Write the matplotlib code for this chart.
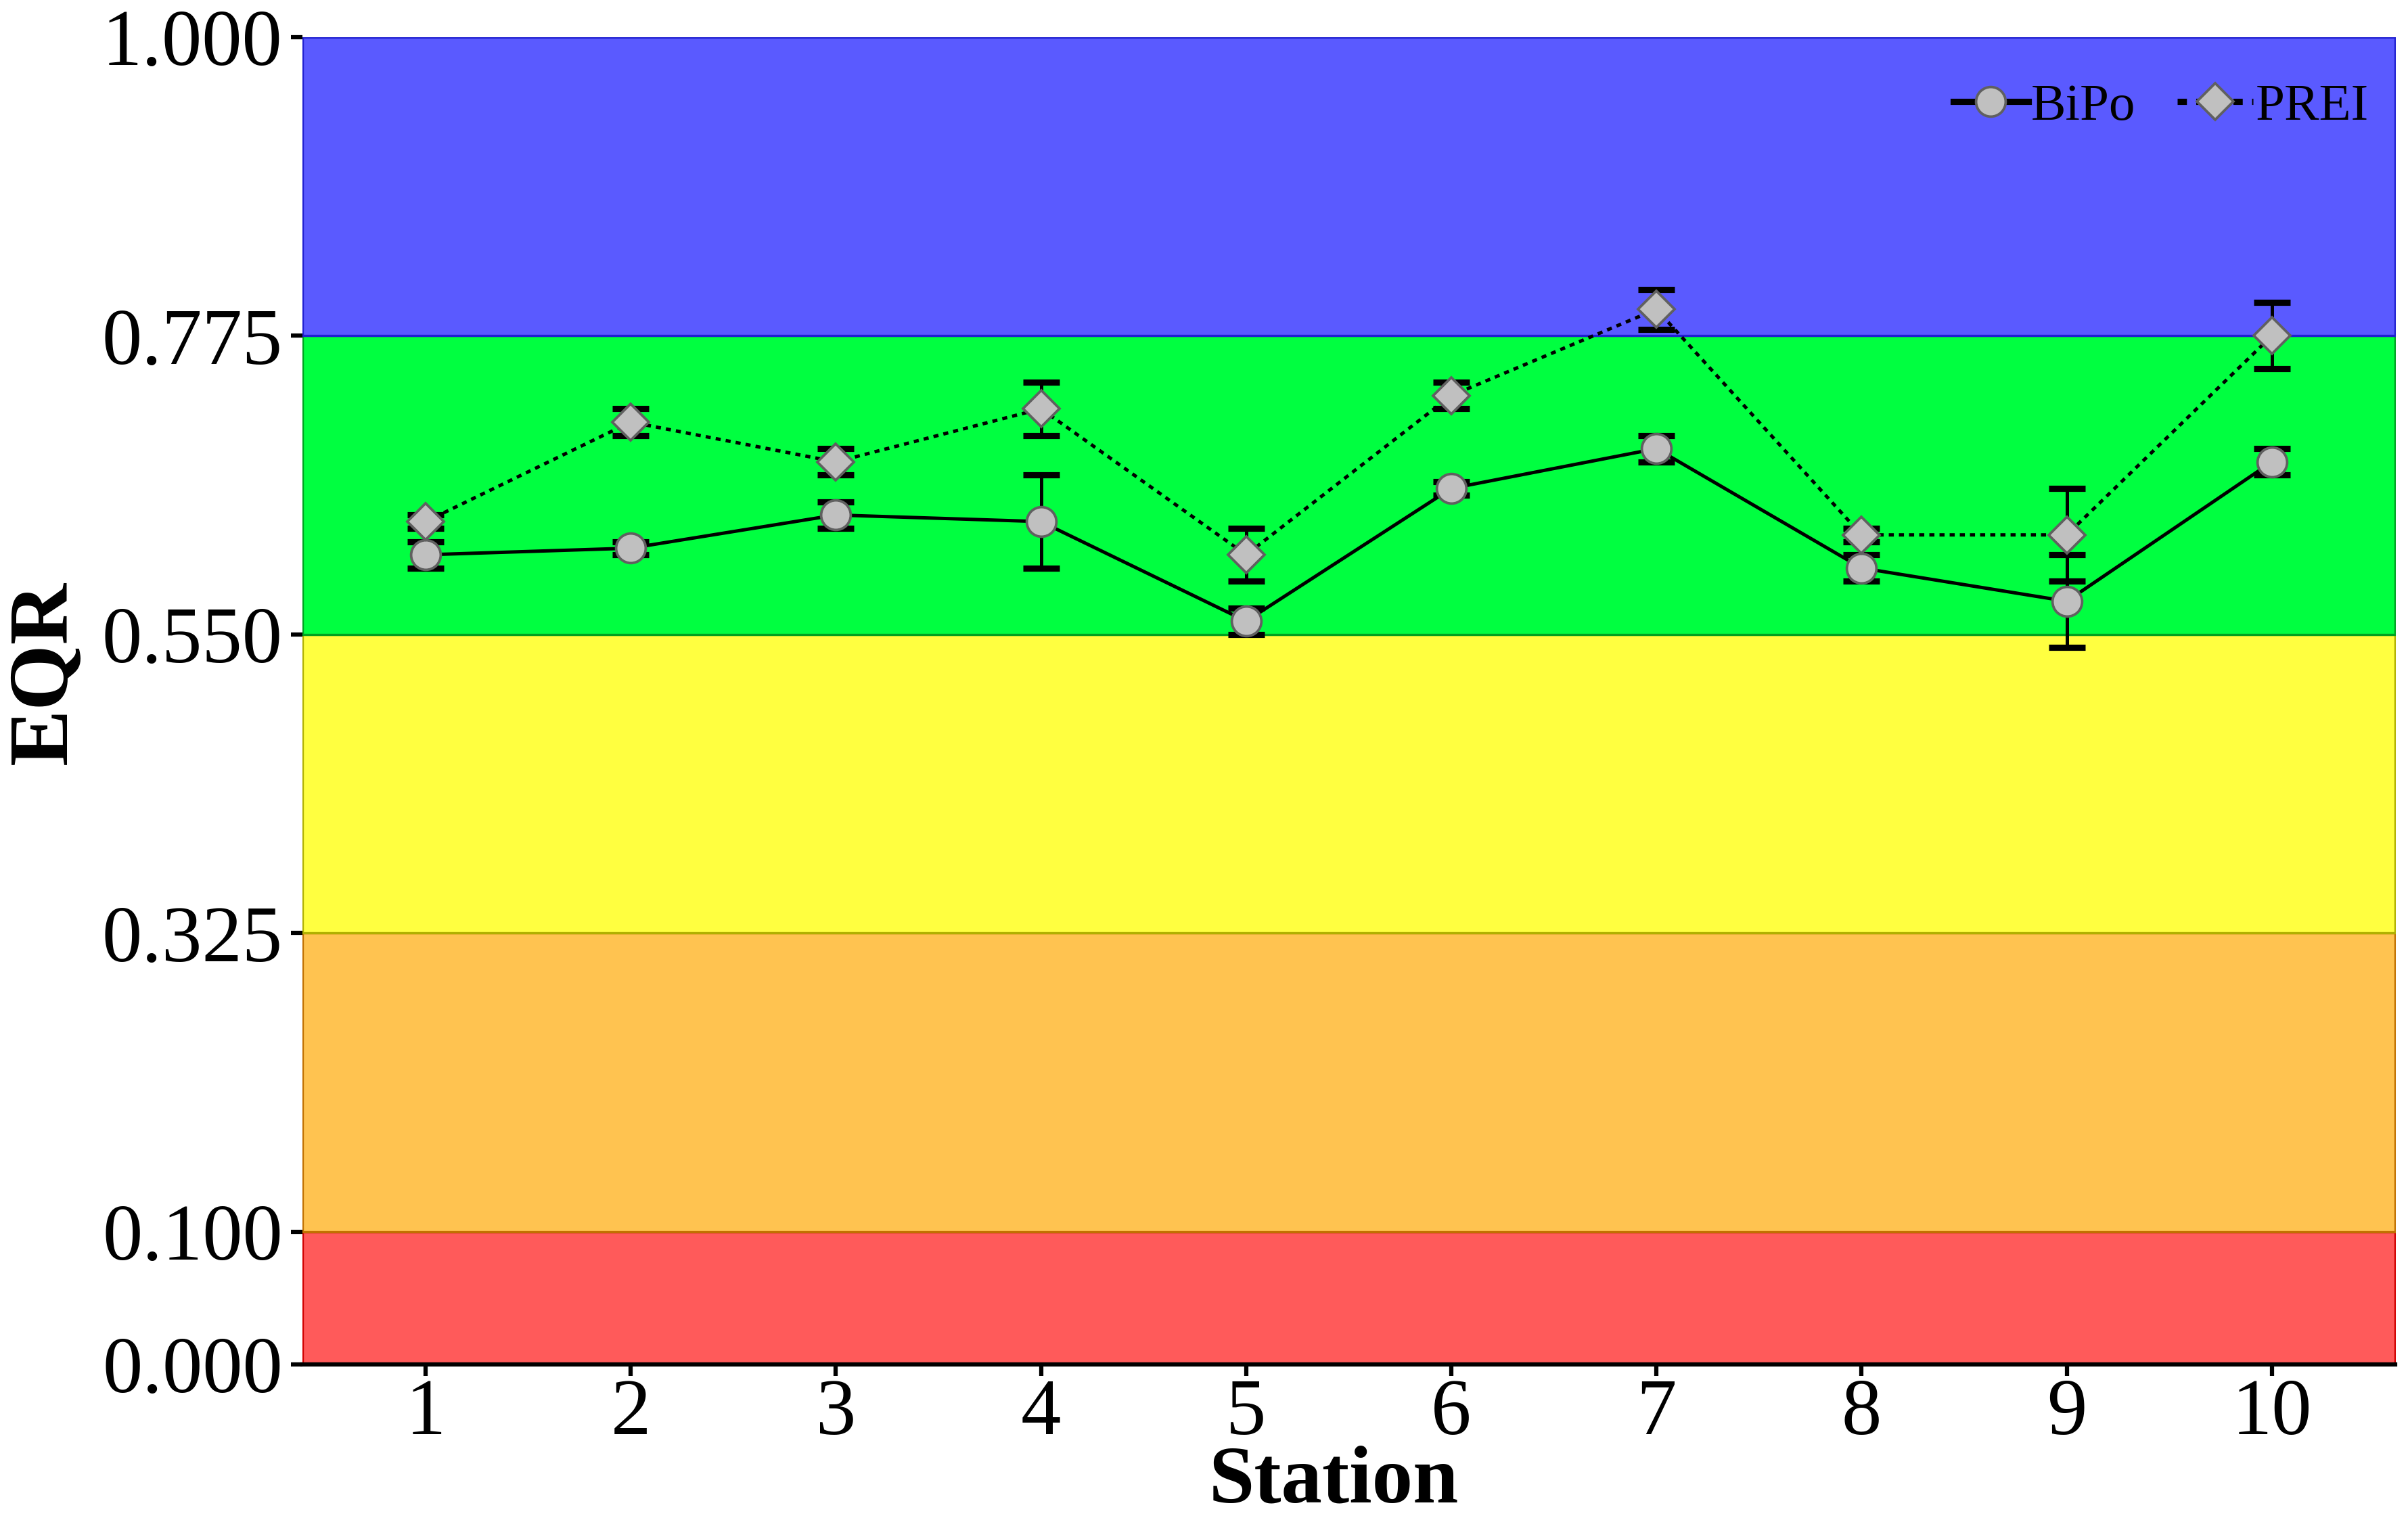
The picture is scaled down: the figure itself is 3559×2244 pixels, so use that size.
import matplotlib
matplotlib.use("Agg")
import matplotlib.pyplot as plt
import numpy as np

stations = [1, 2, 3, 4, 5, 6, 7, 8, 9, 10]
bipo = [0.610, 0.615, 0.640, 0.635, 0.560, 0.660, 0.690, 0.600, 0.575, 0.680]
bipo_err = [0.010, 0.005, 0.010, 0.035, 0.010, 0.005, 0.010, 0.010, 0.035, 0.010]
prei = [0.635, 0.710, 0.680, 0.720, 0.610, 0.730, 0.795, 0.625, 0.625, 0.775]
prei_err = [0.005, 0.010, 0.010, 0.020, 0.020, 0.010, 0.015, 0.005, 0.035, 0.025]

band_bounds = [0.0, 0.100, 0.325, 0.550, 0.775, 1.000]
band_colors = ["#FF5A5A", "#FFC350", "#FFFF40", "#00FF40", "#5A5AFF"]
band_edges = ["#D00000", "#C07000", "#B0B000", "#00A020", "#2020D0"]
ytick_vals = [0.0, 0.100, 0.325, 0.550, 0.775, 1.000]

plt.rcParams['font.family'] = ['Liberation Serif', 'DejaVu Serif']

fig = plt.figure(figsize=(3559/300, 2244/300), dpi=300)
ax = fig.add_axes([0.1256, 0.1012, 0.869, 0.8743])

xmin, xmax = 0.4, 10.6
for i in range(len(band_colors)):
    ax.fill_between([xmin, xmax], band_bounds[i], band_bounds[i+1],
                    facecolor=band_colors[i], edgecolor=band_edges[i],
                    linewidth=0.8, zorder=0)

ax.errorbar(stations, bipo, yerr=bipo_err, fmt='none', ecolor='black',
            elinewidth=1.2, capsize=6.5, capthick=2.2, zorder=2)
ax.errorbar(stations, prei, yerr=prei_err, fmt='none', ecolor='black',
            elinewidth=1.2, capsize=6.5, capthick=2.2, zorder=2)
ax.plot(stations, bipo, color='black', linestyle='-', linewidth=1.2,
        marker='o', markersize=10.5, markerfacecolor='#C0C0C0',
        markeredgecolor='#606060', markeredgewidth=0.9, label='BiPo', zorder=3)
ax.plot(stations, prei, color='black', linestyle=(0, (1.5, 1.5)), linewidth=1.2,
        marker='D', markersize=9.0, markerfacecolor='#C0C0C0',
        markeredgecolor='#606060', markeredgewidth=0.9, label='PREI', zorder=3)

ax.set_xlim(xmin, xmax)
ax.set_ylim(0, 1.0)
ax.set_yticks(ytick_vals)
ax.set_yticklabels([f"{v:.3f}" for v in ytick_vals])
ax.set_xticks(stations)
ax.set_xticklabels([str(s) for s in stations])
ax.tick_params(axis='both', labelsize=28.5, length=4, width=1.5, color='black')
ax.tick_params(axis='x', pad=1.0)
ax.tick_params(axis='y', pad=3)

for s in ['top', 'right', 'left']:
    ax.spines[s].set_visible(False)
ax.spines['bottom'].set_linewidth(1.5)
ax.spines['bottom'].set_color('black')
ax.spines['bottom'].set_zorder(5)

ax.set_xlabel('Station', fontsize=29, fontweight='bold', va='baseline')
ax.set_ylabel('EQR', fontsize=30, fontweight='bold')
ax.xaxis.set_label_coords(0.493, -0.104)
ax.yaxis.set_label_coords(-0.104, 0.521)

leg = ax.legend(loc='upper right', ncol=2, frameon=False, fontsize=18.5,
                handlelength=1.45, handletextpad=0.05, columnspacing=0.8,
                bbox_to_anchor=(1.0, 0.985), borderaxespad=0.1)
for h in leg.get_lines():
    h.set_linewidth(2.2)

fig.savefig('out.png', dpi=300)
